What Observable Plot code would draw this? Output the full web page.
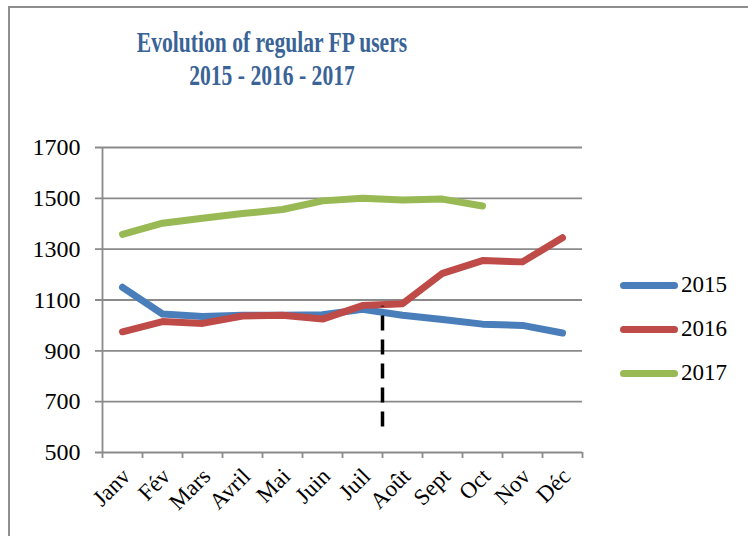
<!DOCTYPE html>
<html>
<head>
<meta charset="utf-8">
<script src="https://cdn.jsdelivr.net/npm/d3@7"></script>
<script src="https://cdn.jsdelivr.net/npm/@observablehq/plot@0.6"></script>
<style>
  html, body { margin: 0; padding: 0; background: #fff; }
  #wrap { position: relative; width: 748px; height: 536px; overflow: hidden; background: #fff; }
  #frame { position: absolute; left: 8px; top: 6px; width: 760px; height: 560px;
           border-left: 2px solid #8f8f8f; border-top: 2px solid #8f8f8f; }
  #title { position: absolute; left: 3px; top: 25px; width: 538px; text-align: center;
           font-family: "Liberation Serif", serif; font-weight: bold; font-size: 30px;
           line-height: 33px; color: #3A6397; transform: scaleX(0.72); transform-origin: 269px 0; }
  #chart { position: absolute; left: 0; top: 0; }
  #legend { position: absolute; left: 620px; top: 270px; font-family: "Liberation Serif", serif; font-size: 23px; }
  .item { position: absolute; left: 0; height: 30px; width: 130px; }
  .sw { position: absolute; left: 0; top: 12px; width: 58px; height: 7px; border-radius: 4px; }
  .lb { position: absolute; left: 61px; top: 0; line-height: 30px; color: #000; }
</style>
</head>
<body>
<div id="wrap">
  <div id="frame"></div>
  <div id="chart"></div>
  <div id="title">Evolution of regular FP users<br>2015 - 2016 - 2017</div>
  <div id="legend"></div>
</div>
<script>
const months = ["Janv", "Fév", "Mars", "Avril", "Mai", "Juin", "Juil", "Août", "Sept", "Oct", "Nov", "Déc"];
const years = ["2015", "2016", "2017"];
const values2015 = [1150, 1045, 1035, 1040, 1040, 1042, 1063, 1040, 1023, 1005, 1000, 970];
const values2016 = [975, 1015, 1008, 1037, 1040, 1025, 1078, 1085, 1205, 1255, 1250, 1345];
const values2017 = [1358, 1402, 1422, 1440, 1456, 1490, 1500, 1493, 1497, 1470];
const yTicks = [500, 700, 900, 1100, 1300, 1500, 1700];
const colors = ["#4A7EBB", "#BE4B48", "#98B954"];
// dashed marker between Juil and Août
const markerBoundary = [6.5];
const markerRange = [600, 1075];

const series = [values2015, values2016, values2017];
const rows = [];
series.forEach((vals, s) => vals.forEach((v, i) => rows.push({year: years[s], i, v})));
const boundaries = d3.range(months.length + 1).map(k => k - 0.5);
const idx = d3.range(months.length);
const grid = "#8a8a8a";

const chart = Plot.plot({
  width: 748,
  height: 536,
  marginLeft: 102,
  marginRight: 166,
  marginTop: 147,
  marginBottom: 84,
  x: {domain: [-0.5, months.length - 0.5], axis: null},
  y: {domain: [500, 1700], axis: null},
  color: {domain: years, range: colors},
  style: {fontFamily: "Liberation Serif, serif", fontSize: "24px", color: "#000", background: "transparent", overflow: "visible"},
  marks: [
    Plot.ruleY(yTicks, {stroke: grid, strokeWidth: 1.8, insetLeft: -7}),
    Plot.ruleX([-0.5], {stroke: grid, strokeWidth: 1.8}),
    Plot.axisX(boundaries, {tickSize: 6, tickFormat: () => "", stroke: grid, strokeWidth: 1.8, label: null}),
    Plot.axisY(yTicks, {tickSize: 0, tickPadding: 22, fontSize: 24, tickFormat: d => String(d), label: null}),
    Plot.axisX(idx, {tickSize: 0, tickPadding: 20, dx: 4, tickRotate: -45, fontSize: 23, tickFormat: i => months[i], label: null}),
    Plot.line(rows, {x: "i", y: "v", z: "year", stroke: "year", strokeWidth: 7, strokeLinecap: "round", strokeLinejoin: "round"}),
    Plot.ruleX(markerBoundary, {y1: markerRange[0], y2: markerRange[1], stroke: "#000", strokeWidth: 3.5, strokeDasharray: "15,9"})
  ]
});
document.getElementById("chart").appendChild(chart);

const legend = document.getElementById("legend");
years.forEach((y, k) => {
  const it = document.createElement("div");
  it.className = "item";
  it.style.top = (k * 44) + "px";
  it.innerHTML = `<div class="sw" style="background:${colors[k]}"></div><div class="lb">${y}</div>`;
  legend.appendChild(it);
});
</script>
</body>
</html>
